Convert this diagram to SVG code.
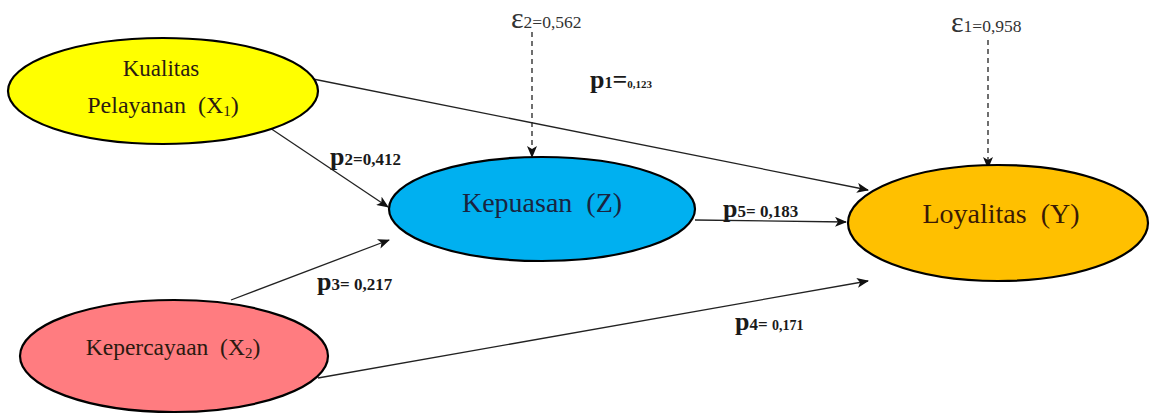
<svg xmlns="http://www.w3.org/2000/svg" width="1150" height="414" viewBox="0 0 1150 414">
<style>
.node{stroke:#000;stroke-width:2.2}
text{font-family:"Liberation Serif","Times New Roman",serif}
.lbl{fill:#2a1a10}
.eps{fill:#333}
.p{font-weight:bold;fill:#1a1a1a}
.edge{stroke:#222;stroke-width:1.3;fill:none;marker-end:url(#ah)}
.dash{stroke:#222;stroke-width:1.3;fill:none;stroke-dasharray:5,4;marker-end:url(#ah)}
</style>
<defs>
<marker id="ah" viewBox="0 0 12 10" refX="11" refY="5" markerWidth="12" markerHeight="10" markerUnits="userSpaceOnUse" orient="auto">
<path d="M0,0 L12,5 L0,10 L3,5 Z" fill="#111"/>
</marker>
</defs>
<rect width="1150" height="414" fill="#fff"/>
<g id="connectors">
<line class="edge" x1="313" y1="79" x2="868" y2="190"/>
<line class="edge" x1="270" y1="128" x2="388" y2="207"/>
<line class="edge" x1="231" y1="300" x2="389" y2="240"/>
<line class="edge" x1="695" y1="220" x2="846" y2="222"/>
<line class="edge" x1="318" y1="378" x2="868" y2="281"/>
<line class="dash" x1="532" y1="32" x2="532" y2="157"/>
<line class="dash" x1="988" y1="40" x2="988" y2="168"/>
</g>
<g id="kualitas">
<ellipse class="node" cx="163" cy="91" rx="155" ry="53" fill="#FFFF00"/>
<text class="lbl" x="161" y="76" font-size="23" text-anchor="middle">Kualitas</text>
<text class="lbl" x="163" y="113" font-size="24" text-anchor="middle">Pelayanan &#160;(X<tspan font-size="15" dy="3">1</tspan><tspan dy="-3">)</tspan></text>
</g>
<g id="kepercayaan">
<ellipse class="node" cx="174" cy="356" rx="154" ry="56" fill="#FF7C80"/>
<text class="lbl" x="173" y="355" font-size="23.5" text-anchor="middle">Kepercayaan &#160;(X<tspan font-size="15" dy="3">2</tspan><tspan dy="-3">)</tspan></text>
</g>
<g id="kepuasan">
<ellipse class="node" cx="542" cy="209" rx="153" ry="52" fill="#00B0F0"/>
<text x="542" y="212" font-size="28" text-anchor="middle" fill="#1a2440">Kepuasan &#160;(Z)</text>
</g>
<g id="loyalitas">
<ellipse class="node" cx="998" cy="223" rx="150" ry="58" fill="#FFC000"/>
<text x="1001" y="223" font-size="28" text-anchor="middle" fill="#3a1a05">Loyalitas &#160;(Y)</text>
</g>
<g id="labels">
<text class="eps" x="511" y="28" font-size="30">ε<tspan font-size="17.5">2=0,562</tspan></text>
<text class="eps" x="951" y="32" font-size="30">ε<tspan font-size="17.5">1=0,958</tspan></text>
<text class="p" x="590" y="88" font-size="26">p<tspan font-size="16">1</tspan><tspan font-size="26">=</tspan><tspan font-size="11">0,123</tspan></text>
<text class="p" x="330" y="165" font-size="26">p<tspan font-size="17">2=0,412</tspan></text>
<text class="p" x="317" y="290" font-size="26">p<tspan font-size="17">3= 0,217</tspan></text>
<text class="p" x="723" y="217" font-size="26">p<tspan font-size="17">5= 0,183</tspan></text>
<text class="p" x="735" y="330" font-size="26">p<tspan font-size="17">4= </tspan><tspan font-size="14">0,171</tspan></text>
</g>
</svg>
